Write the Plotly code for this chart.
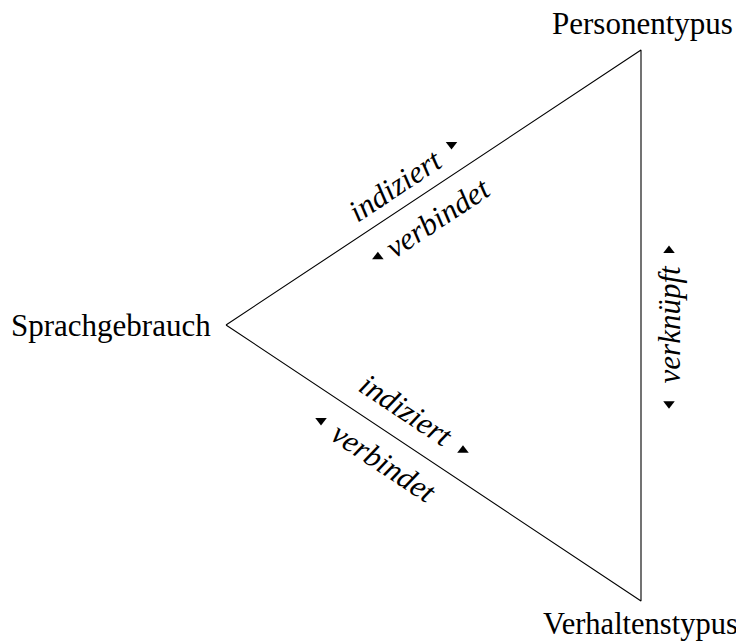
import math
import plotly.graph_objects as go

# Diagram data (pixel-like coordinates, y grows downward)
node_names = ["Sprachgebrauch", "Personentypus", "Verhaltenstypus"]
node_x = [226, 641, 641]
node_y = [325, 50, 601]

# edge labels: (text, edge, fraction along edge, offset along outward normal)
label_text = ["indiziert", "verbindet", "indiziert", "verbindet", "verknüpft"]
label_edge = [(0, 1), (0, 1), (0, 2), (0, 2), (1, 2)]
label_t = [0.438, 0.474, 0.397, 0.416, 0.498]
label_off = [23, -28, -29, 27, 28]

# direction markers
arrow_symbol = ["triangle-down", "triangle-up", "triangle-up", "triangle-down", "triangle-up", "triangle-down"]
arrow_edge = [(0, 1), (0, 1), (0, 2), (0, 2), (1, 2), (1, 2)]
arrow_t = [0.578, 0.33, 0.535, 0.265, 0.364, 0.642]
arrow_off = [26, -27, -27, 27, 28, 28]

W, H = 744, 643
PAGE_MARGIN = 8  # default body margin of the page
SERIF = "Liberation Serif, Times New Roman, serif"
FS_NODE = 31
FS_EDGE = 31


def edge_point(edge, t, off):
    a, b = edge
    ax, ay, bx, by = node_x[a], node_y[a], node_x[b], node_y[b]
    dx, dy = bx - ax, by - ay
    cx = sum(node_x) / 3
    cy = sum(node_y) / 3
    L = math.hypot(dx, dy)
    ux, uy = dx / L, dy / L
    nx, ny = -uy, ux
    mx, my = ax + t * dx, ay + t * dy
    if (mx + nx - cx) ** 2 + (my + ny - cy) ** 2 < (mx - cx) ** 2 + (my - cy) ** 2:
        nx, ny = -nx, -ny
    ang = math.degrees(math.atan2(dy, dx))
    if ang > 90:
        ang -= 180
    if ang < -90:
        ang += 180
    if abs(abs(ang) - 90) < 1e-6:
        ang = -90
    return mx + off * nx, my + off * ny, ang


fig = go.Figure()

fig.add_trace(go.Scatter(
    x=node_x + [node_x[0]], y=node_y + [node_y[0]],
    mode="lines", line=dict(color="black", width=1.1),
    hoverinfo="skip", showlegend=False))

ax_, ay_ = [], []
for e, t, o in zip(arrow_edge, arrow_t, arrow_off):
    px, py, _ = edge_point(e, t, o)
    ax_.append(px)
    ay_.append(py)
fig.add_trace(go.Scatter(
    x=ax_, y=ay_, mode="markers",
    marker=dict(symbol=arrow_symbol, size=10, color="black", line=dict(width=0)),
    hoverinfo="skip", showlegend=False))

for txt, e, t, o in zip(label_text, label_edge, label_t, label_off):
    px, py, ang = edge_point(e, t, o)
    fig.add_annotation(x=px, y=py, text="<i>" + txt + "</i>", showarrow=False,
                       textangle=ang, xanchor="center", yanchor="middle",
                       font=dict(family=SERIF, size=FS_EDGE, color="black"))

fig.add_annotation(x=node_x[0] - 13, y=node_y[0], text=node_names[0], showarrow=False,
                   xanchor="right", yanchor="middle",
                   font=dict(family=SERIF, size=FS_NODE, color="black"))
fig.add_annotation(x=node_x[1] + 1, y=node_y[1] - 27, text=node_names[1], showarrow=False,
                   xanchor="center", yanchor="middle",
                   font=dict(family=SERIF, size=FS_NODE, color="black"))
fig.add_annotation(x=node_x[2] - 1, y=node_y[2] + 23, text=node_names[2], showarrow=False,
                   xanchor="center", yanchor="middle",
                   font=dict(family=SERIF, size=30.5, color="black"))

fig.update_layout(
    width=W - PAGE_MARGIN, height=H - PAGE_MARGIN,
    margin=dict(l=0, r=0, t=0, b=0),
    paper_bgcolor="white", plot_bgcolor="white",
    xaxis=dict(range=[PAGE_MARGIN, W], visible=False, fixedrange=True),
    yaxis=dict(range=[H, PAGE_MARGIN], visible=False, fixedrange=True),
    showlegend=False,
)

fig.write_html("out.html")
